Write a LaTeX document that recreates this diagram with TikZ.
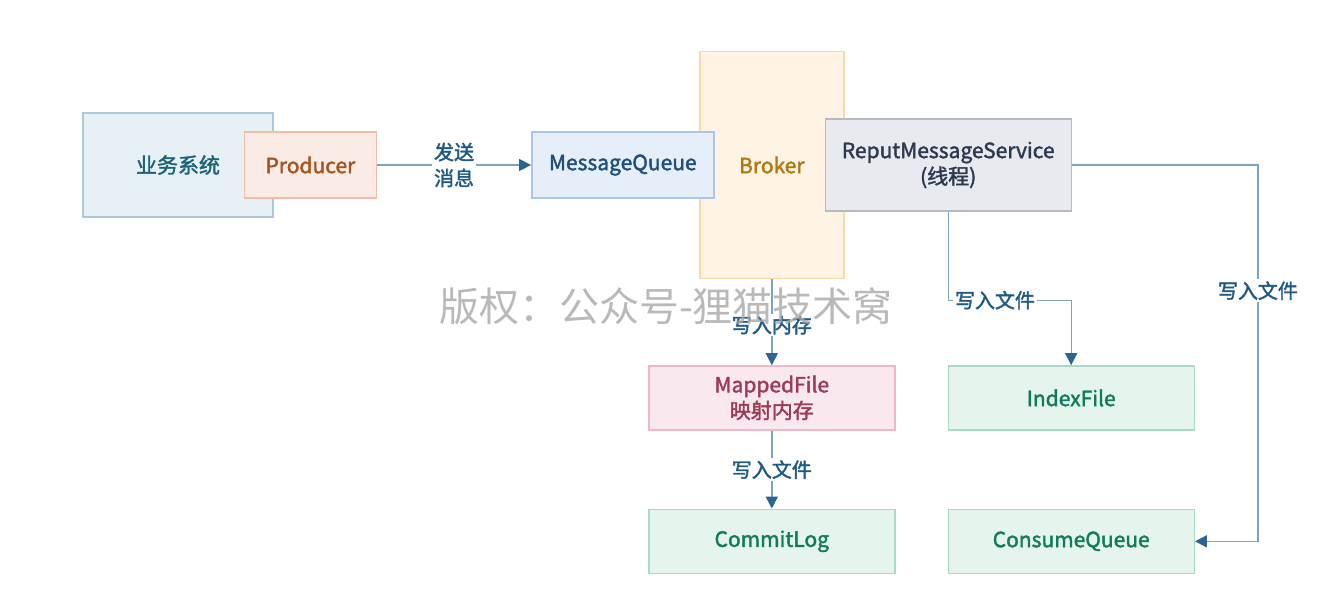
\documentclass[tikz,border=0pt]{standalone}
\usepackage{fontspec}
\setmainfont{Noto Sans CJK SC}
\newfontfamily\midfont{Noto Sans CJK SC}[FakeBold=1.8]
\usepackage{tikz}
\usetikzlibrary{shapes.geometric, arrows.meta, calc, positioning}
\definecolor{linecol}{HTML}{7AA3C4}
\definecolor{tipcol}{HTML}{2A6695}
\definecolor{lblcol}{HTML}{1F5A85}
\definecolor{sysfill}{HTML}{E7F0F4}
\definecolor{sysdraw}{HTML}{A9C9DD}
\definecolor{systext}{HTML}{1D6378}
\definecolor{prodfill}{HTML}{FBEBE5}
\definecolor{proddraw}{HTML}{F2BCA7}
\definecolor{prodtext}{HTML}{A3541F}
\definecolor{mqfill}{HTML}{E6EEF9}
\definecolor{mqdraw}{HTML}{AAC8E6}
\definecolor{mqtext}{HTML}{1F4F7A}
\definecolor{brokerfill}{HTML}{FFF3E5}
\definecolor{brokerdraw}{HTML}{FBD8A8}
\definecolor{brokertext}{HTML}{B07A10}
\definecolor{servicefill}{HTML}{E9EAEF}
\definecolor{servicedraw}{HTML}{B6BAC4}
\definecolor{servicetext}{HTML}{2C3A50}
\definecolor{memoryfill}{HTML}{F9E8EE}
\definecolor{memorydraw}{HTML}{F0B7C6}
\definecolor{memorytext}{HTML}{9C3B57}
\definecolor{filefill}{HTML}{E6F4EE}
\definecolor{filedraw}{HTML}{A8DBC5}
\definecolor{filetext}{HTML}{0F7C5C}
\definecolor{markcol}{HTML}{A8A8A8}
\tikzstyle{box} = [rectangle, line width=0.7pt, inner sep=2pt, text centered, align=center, font=\fontsize{10.5}{13}\midfont]
\tikzstyle{sysbox} = [box, fill=sysfill, draw=sysdraw, text=systext, minimum width=95pt, minimum height=52pt]
\tikzstyle{prodbox} = [box, fill=prodfill, draw=proddraw, text=prodtext, minimum width=66pt, minimum height=33pt]
\tikzstyle{mqbox} = [box, fill=mqfill, draw=mqdraw, text=mqtext, minimum width=91pt, minimum height=33pt]
\tikzstyle{brokerbox} = [box, fill=brokerfill, draw=brokerdraw, text=brokertext, minimum width=72pt, minimum height=113.5pt]
\tikzstyle{servicebox} = [box, fill=servicefill, draw=servicedraw, text=servicetext, minimum width=123pt, minimum height=46pt]
\tikzstyle{memorybox} = [box, fill=memoryfill, draw=memorydraw, text=memorytext, minimum width=123pt, minimum height=32pt]
\tikzstyle{filebox} = [box, fill=filefill, draw=filedraw, text=filetext, minimum width=123pt, minimum height=32pt]
\tikzstyle{lbl} = [fill=white, text=lblcol, inner sep=1pt, align=center, font=\fontsize{10}{13}\midfont]
\tikzstyle{arrow} = [line width=0.7pt, draw=linecol, -{Triangle[color=tipcol, length=6pt, width=6pt]}]
\begin{document}
\begin{tikzpicture}
	\useasboundingbox (0,0) rectangle (672pt,-306pt);
	\node (System) [sysbox] at (89pt,-82.5pt) {业务系统};
	\node (Producer) [prodbox, right = -15pt of System.east] {Producer};
	\node (Broker) [brokerbox, right = 161pt of Producer] {Broker};
	\node (MessageQueue) [mqbox, right = 77pt of Producer] {MessageQueue};
	\node (Reput) [servicebox, right = -10pt of Broker] {ReputMessageService\\(线程)};
	\node (MappedFile) [memorybox, below = 43pt of Broker] {MappedFile\\映射内存};
	\node (CommitLog) [filebox, below = 39pt of MappedFile] {CommitLog};
	\node (IndexFile) [filebox, right = 26pt of MappedFile] {IndexFile};
	\node (ConsumeQueue) [filebox, right = 26pt of CommitLog] {ConsumeQueue};
	\coordinate (IndexBend) at ($(IndexFile.north)+(0,32.5pt)$);
	\coordinate (ConsumeBend) at ($(ConsumeQueue.east)+(31.5pt,0)$);
	\draw [arrow] (Producer) -- node[lbl]{发送\\消息} (MessageQueue);
	\draw [arrow] (Broker) -- node[lbl, yshift=-1.5pt]{写入内存} (MappedFile);
	\draw [arrow] (MappedFile) -- node[lbl]{写入文件} (CommitLog);
	\draw [arrow] (Reput.south) |- node[lbl, pos=0.69]{写入文件} (IndexBend) -- (IndexFile);
	\draw [arrow] (Reput.east) -| node[lbl, pos=0.667]{写入文件} (ConsumeBend) -- (ConsumeQueue.east);
	\node (Watermark) [text=markcol, opacity=0.8, font=\fontsize{20}{24}\selectfont] at (333pt,-153pt) {版权：公众号-狸猫技术窝};
\end{tikzpicture}
\end{document}
